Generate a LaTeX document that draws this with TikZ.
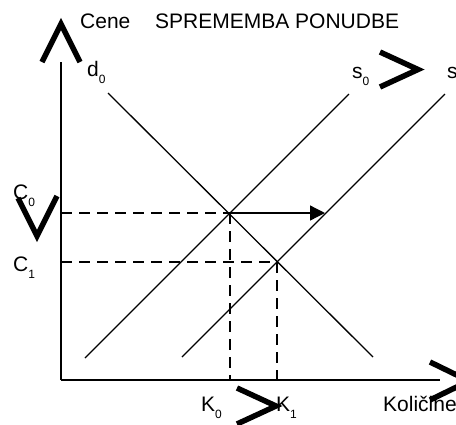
\documentclass[tikz,border=0pt]{standalone}
\usepackage{fontspec}
\setmainfont{Liberation Sans}
\usetikzlibrary{arrows.meta}
\newcommand{\lbl}[2]{#1\raisebox{-7pt}{\fontsize{12}{12}\selectfont #2}}
\begin{document}
\begin{tikzpicture}[x=1pt,y=-1pt,
  axisline/.style={line width=2pt},
  curveline/.style={line width=1.3pt},
  guide/.style={line width=2pt,dash pattern=on 11pt off 7pt},
  chev/.style={line width=5.5pt,line join=miter,line cap=butt},
  txt/.style={inner sep=0pt,anchor=base west,font=\fontsize{21}{21}\selectfont}]
\useasboundingbox (0,0) rectangle (456,424);
\clip (0,0) rectangle (456,424);
% coordinates
\coordinate (O) at (61,380);
\coordinate (Ytop) at (61,62);
\coordinate (Xend) at (440,380);
\coordinate (dA) at (108,93);
\coordinate (dB) at (373,357);
\coordinate (s0A) at (85,358);
\coordinate (s0B) at (349,94);
\coordinate (s1A) at (182,357);
\coordinate (s1B) at (445,94);
\coordinate (E0) at (230,213);
\coordinate (E1) at (277,262);
\coordinate (Y0) at (61,213);
\coordinate (Y1) at (61,262);
\coordinate (X0) at (230,380);
\coordinate (X1) at (277,380);
\coordinate (shift) at (325,213);
% labels
\node[txt] (cene) at (80,28) {Cene};
\node[txt] (title) at (155,28) {SPREMEMBA PONUDBE};
\node[txt] (d0) at (87,76) {\lbl{d}{0}};
\node[txt] (s0) at (352,78) {\lbl{s}{0}};
\node[txt] (s1) at (447,78) {\lbl{s}{1}};
\node[txt] (c0) at (13,199) {\lbl{C}{0}};
\node[txt] (c1) at (13,271) {\lbl{C}{1}};
\node[txt] (k0) at (201,411) {\lbl{K}{0}};
\node[txt] (k1) at (276,411) {\lbl{K}{1}};
\node[txt] (kol) at (383,411) {Količine};
% axes
\draw[axisline] (O) -- (Ytop);
\draw[axisline] (O) -- (Xend);
% curves
\draw[curveline] (dA) -- (dB);
\draw[curveline] (s0A) -- (s0B);
\draw[curveline] (s1A) -- (s1B);
% guides
\draw[guide] (Y0) -- (E0);
\draw[guide] (E0) -- (X0);
\draw[guide] (Y1) -- (E1);
\draw[guide] (E1) -- (X1);
% shift arrow
\draw[curveline,-{Triangle[length=15pt,width=15pt]}] (E0) -- (shift);
% chevrons
\draw[chev] (42,62) -- (61,24) -- (80,62);
\draw[chev] (430,362) -- (469,381) -- (430,400);
\draw[chev] (380,52) -- (418,69.5) -- (380,87);
\draw[chev] (237,388) -- (276,406) -- (237,424);
\draw[chev] (18,198) -- (37,236) -- (57,196);
\end{tikzpicture}
\end{document}
